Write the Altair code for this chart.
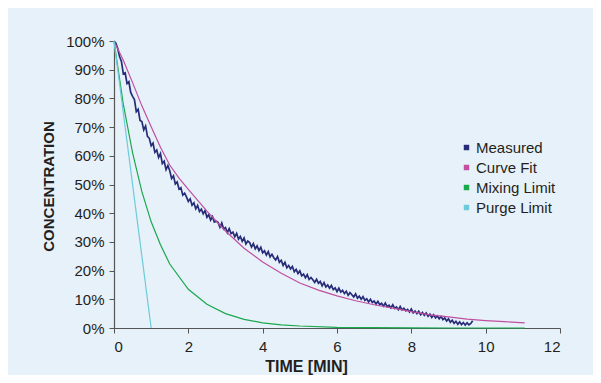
import altair as alt
import pandas as pd

SERIES = ["Measured", "Curve Fit", "Mixing Limit", "Purge Limit"]
COLORS = ["#262c78", "#c04f9e", "#1aa84c", "#6ccbd9"]

# Measured: sampled every 0.05 min from 0 to 9.65 min (percent)
measured_step = 0.05
measured_values = [
    100.0, 99.2, 97.4, 94.6, 92.9, 88.6, 88.9, 85.2, 85.8, 82.1,
    80.7, 79.6, 75.4, 76.2, 72.3, 71.9, 69.0, 70.4, 66.8, 66.1,
    63.5, 64.4, 61.2, 62.0, 59.4, 60.8, 57.3, 58.1, 55.2, 56.6,
    54.8, 52.1, 53.0, 50.2, 50.9, 48.4, 48.9, 46.3, 47.0, 45.7,
    44.1, 45.0, 42.8, 43.6, 41.5, 42.7, 40.6, 41.4, 39.8, 40.9,
    38.6, 39.5, 37.6, 38.8, 36.9, 37.2, 36.8, 35.1, 36.6, 34.5,
    35.0, 33.2, 34.6, 32.9, 33.4, 31.8, 33.0, 31.0, 31.9, 30.2,
    31.4, 29.3, 30.3, 29.8, 28.2, 29.4, 27.6, 28.6, 27.0, 28.1,
    26.2, 26.9, 25.4, 26.6, 24.8, 25.7, 24.5, 23.7, 24.9, 22.9,
    23.6, 21.8, 22.9, 21.0, 21.8, 20.6, 21.4, 19.6, 20.4, 19.0,
    19.9, 18.2, 18.8, 17.5, 18.6, 16.9, 17.6, 16.8, 15.9, 17.0,
    15.6, 16.2, 14.7, 15.8, 14.3, 15.0, 13.9, 14.8, 13.4, 14.0,
    12.7, 13.9, 12.5, 13.1, 12.0, 12.8, 11.4, 12.3, 11.6, 10.8,
    11.9, 10.4, 11.1, 10.0, 10.9, 9.6, 10.2, 9.1, 10.0, 8.9,
    9.4, 8.3, 9.3, 8.1, 8.6, 7.6, 8.7, 7.4, 7.9, 7.0,
    8.1, 6.8, 7.3, 6.4, 7.5, 6.3, 6.9, 6.0, 6.5, 5.6,
    6.6, 5.3, 5.9, 5.0, 5.8, 4.6, 5.4, 4.4, 5.2, 4.1,
    4.8, 3.7, 4.6, 3.5, 4.2, 3.2, 4.0, 2.9, 3.5, 2.4,
    3.2, 2.0, 2.7, 1.6, 2.3, 1.3, 2.1, 1.2, 1.9, 1.0,
    1.8, 1.1, 1.6, 2.5,
]

curve_t = [0, 0.25, 0.5, 0.75, 1.0, 1.25, 1.5, 1.75, 2.0, 2.5, 3.0, 3.5, 4.0, 4.5, 5.0,
           5.5, 6.0, 6.5, 7.0, 7.5, 8.0, 8.5, 9.0, 9.5, 10.0, 10.5, 11.05]
curve_v = [100, 93.3, 85.5, 77.4, 70.1, 63.0, 56.8, 52.2, 48.3, 40.7, 33.8, 27.8, 23.0,
           19.1, 15.7, 13.2, 11.2, 9.5, 8.1, 6.9, 5.7, 4.6, 3.9, 3.1, 2.6, 2.2, 1.8]

mixing_t = [0, 0.25, 0.5, 0.75, 1.0, 1.25, 1.5, 2.0, 2.5, 3.0, 3.5, 4.0, 4.5,
            5.0, 6.0, 7.0, 8.0, 9.0, 10.0, 11.05]
mixing_v = [100, 78, 61, 47.5, 37, 29, 22.3, 13.5, 8.3, 5.0, 3.0, 1.8, 1.1,
            0.7, 0.25, 0.1, 0.05, 0, 0, 0]

purge_t = [0, 1.0]
purge_v = [100, 0]

measured_t = [round(i * measured_step, 2) for i in range(len(measured_values))]

frames = [
    pd.DataFrame({"t": measured_t, "v": measured_values, "series": "Measured"}),
    pd.DataFrame({"t": curve_t, "v": curve_v, "series": "Curve Fit"}),
    pd.DataFrame({"t": mixing_t, "v": mixing_v, "series": "Mixing Limit"}),
    pd.DataFrame({"t": purge_t, "v": purge_v, "series": "Purge Limit"}),
]

FONT = "Liberation Sans"
TXT = "#231f20"

x_enc = alt.X("t:Q", scale=alt.Scale(domain=[0, 12], nice=False),
              axis=alt.Axis(values=list(range(0, 13, 2)), title="TIME [MIN]",
                            titleX=192, titleY=38, titleBaseline="middle",
                            titleFontSize=16, labelPadding=6))
y_enc = alt.Y("v:Q", scale=alt.Scale(domain=[0, 100], nice=False),
              axis=alt.Axis(values=list(range(0, 101, 10)), title="CONCENTRATION",
                            labelExpr="datum.value + '%'",
                            titleX=-66, titleY=145, titleAngle=-90,
                            titleAlign="center", titleBaseline="middle",
                            titleFontSize=15, labelPadding=5))
color_enc = alt.Color("series:N", scale=alt.Scale(domain=SERIES, range=COLORS),
                      legend=alt.Legend(title=None, orient="none", legendX=345,
                                        legendY=99, symbolType="square",
                                        symbolSize=6, symbolStrokeWidth=3,
                                        labelOffset=2, rowPadding=4, padding=0,
                                        labelFontSize=15, labelColor=TXT,
                                        labelFont=FONT))

layers = []
for df, sw in zip(frames, [1.7, 1.2, 1.2, 1.2]):
    layers.append(
        alt.Chart(df).mark_line(strokeWidth=sw, interpolate="linear").encode(
            x=x_enc, y=y_enc, color=color_enc, order="t:Q")
    )

chart = alt.layer(*layers).properties(
    width=446, height=287,
    padding={"left": 106, "top": 33, "right": 33, "bottom": 47},
    autosize=alt.AutoSizeParams(type="none"),
    background="#e7f1fa",
).configure_view(stroke=None).configure_axis(
    labelFont=FONT, titleFont=FONT, labelFontSize=15, labelColor=TXT,
    titleColor=TXT, titleFontWeight="bold", grid=False,
    domainColor="#555555", tickColor="#555555", tickSize=5, domainWidth=1.2,
)

chart.save("out.html", embed_options={"renderer": "svg", "actions": False})
